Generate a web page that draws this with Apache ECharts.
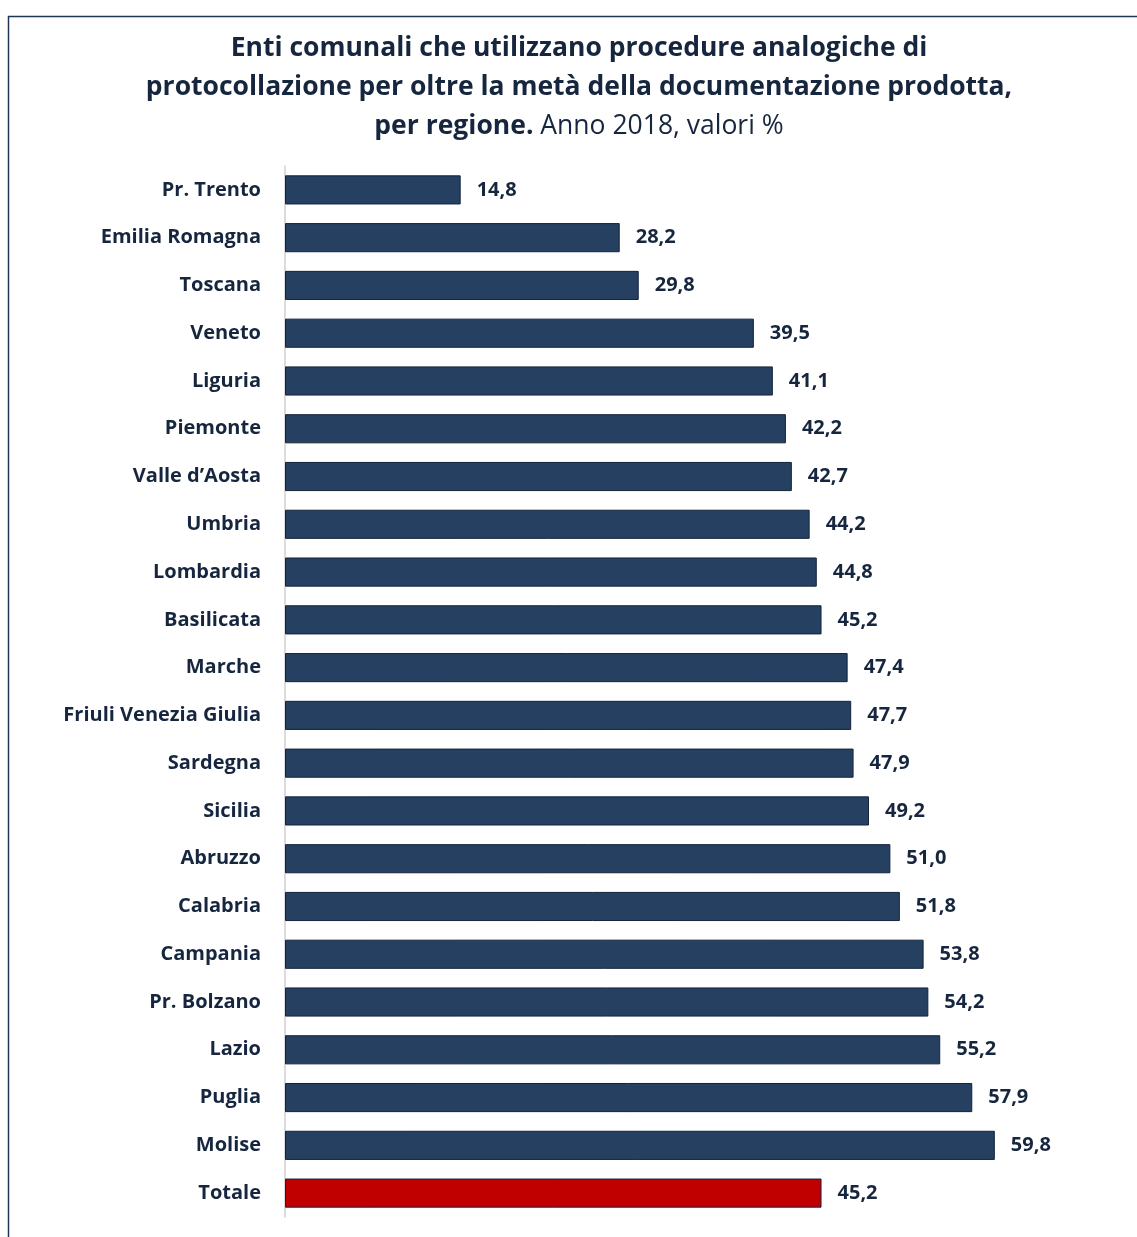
<!DOCTYPE html>
<html><head><meta charset="utf-8">
<script src="https://cdn.jsdelivr.net/npm/echarts@6/dist/echarts.min.js"></script>
<style>html,body{margin:0;padding:0;background:#fff}#c{width:1137px;height:1237px}</style>
</head><body><div id="c"></div>
<script>
const regions = ["Pr. Trento","Emilia Romagna","Toscana","Veneto","Liguria","Piemonte","Valle d\u2019Aosta","Umbria","Lombardia","Basilicata","Marche","Friuli Venezia Giulia","Sardegna","Sicilia","Abruzzo","Calabria","Campania","Pr. Bolzano","Lazio","Puglia","Molise","Totale"];
const values = [14.8,28.2,29.8,39.5,41.1,42.2,42.7,44.2,44.8,45.2,47.4,47.7,47.9,49.2,51.0,51.8,53.8,54.2,55.2,57.9,59.8,45.2];
const highlight = "Totale";

const FONT = "Open Sans";
const TXT = "#16263E";
const chart = echarts.init(document.getElementById('c'));
chart.setOption({
  animation:false,
  backgroundColor:"#fff",
  graphic:[{type:'rect',shape:{x:8.5,y:16.5,width:1140,height:1240},style:{fill:'none',stroke:'#1F3556',lineWidth:1.5},silent:true}],
  title:{
    left:574, top:24, textAlign:'center',
    text:"{b|Enti comunali che utilizzano procedure analogiche di}\n{b|protocollazione per oltre la metà della documentazione prodotta,}\n{b|per regione.}{n| Anno 2018, valori %}",
    textStyle:{
      rich:{
        b:{fontFamily:FONT,fontWeight:'bold',fontSize:26.5,color:TXT,lineHeight:39},
        n:{fontFamily:FONT,fontWeight:'normal',fontSize:26.5,color:TXT,lineHeight:39}
      }
    }
  },
  grid:{left:285,top:166,width:712.2,height:1051,containLabel:false},
  xAxis:{type:'value',min:0,max:60,show:false,splitLine:{show:false}},
  yAxis:{type:'category',inverse:true,data:regions,
    axisLine:{show:true,lineStyle:{color:'#D0D0D0',width:1.5}},
    axisTick:{show:false},
    axisLabel:{margin:24,fontFamily:FONT,fontWeight:'bold',fontSize:20,color:TXT}
  },
  series:[{type:'bar',barCategoryGap:'39%',
    data: values.map((v,i)=>({value:v,itemStyle: regions[i]===highlight?{color:'#C00000'}:{color:'#264061'}})),
    itemStyle:{borderColor:'#13233C',borderWidth:1},
    label:{show:true,position:'right',distance:16,fontFamily:FONT,fontWeight:'bold',fontSize:20,color:TXT,
      formatter:p=>p.value.toFixed(1).replace('.',',')}
  }]
});
</script></body></html>
